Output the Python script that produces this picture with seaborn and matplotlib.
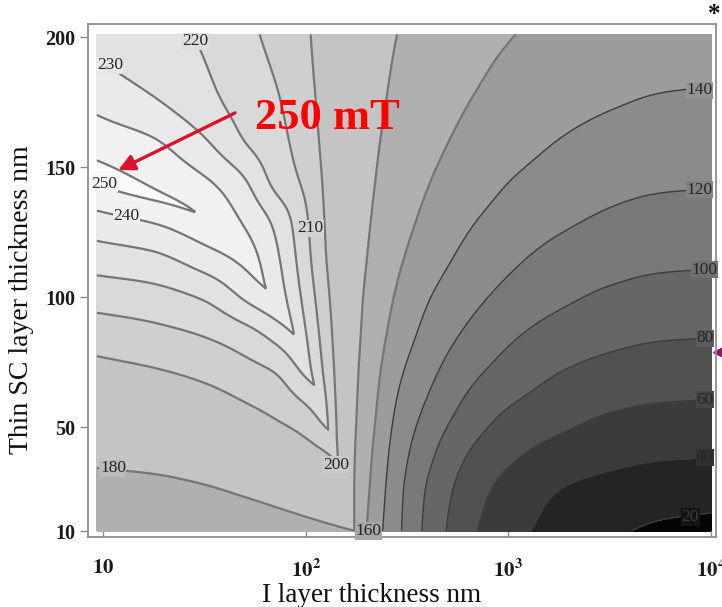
import numpy as np
import matplotlib
matplotlib.use("Agg")
import matplotlib.pyplot as plt
from matplotlib.colors import to_rgb
from matplotlib.ticker import NullLocator
import seaborn as sns

# ---------------- data ----------------
# I-layer thickness sample columns (nm) and thin-SC-layer thickness rows (nm)
i_layer_nm = [9.33, 17.78, 31.62, 50.12, 70.79, 100.0, 125.9, 158.5, 199.5,
              281.8, 398.1, 631.0, 1000.0, 1778.0, 3162.0, 5623.0, 10000.0]
sc_layer_nm = [10, 25, 40, 55, 70, 85, 100, 115, 130, 145, 160, 175, 190, 201]

# field (mT) of the "upper" branch (upper arms of the V contours and the right-hand arcs)
upper_10 = [345, 335, 325, 312, 295, 272, 240, 195, 159.1, 124.8, 94.9, 65.1, 46.6, 33.3, 23.4, 16.5, 13.5]
upper_25 = [335, 325, 315, 302, 285, 262, 228, 190.9, 163.6, 126.5, 97.7, 70.5, 52.7, 39.3, 33.1, 29.0, 27.6]
upper_40 = [325, 315, 305, 292, 275, 250, 214, 189.9, 166.9, 130.8, 105.8, 79.8, 64.8, 52.9, 46.2, 42.7, 41.7]
upper_55 = [315, 305, 295, 282, 265, 240, 210.9, 189.6, 170.9, 136.6, 115.7, 93.1, 77.5, 67.5, 59.5, 56.2, 55.2]
upper_70 = [305, 295, 285, 272, 258, 225.4, 207.6, 189.4, 173.6, 143.7, 125.1, 104.8, 91.5, 79.2, 72.7, 69.1, 68.1]
upper_85 = [295, 285, 275, 262, 245, 220.6, 204.8, 189.5, 176.2, 151.6, 133.8, 116.3, 102.9, 91.7, 85.1, 81.6, 80.6]
upper_100 = [285, 275, 265, 250, 236.5, 216.7, 202.2, 189.7, 178.1, 157.9, 141.4, 126.3, 114.5, 103.9, 96.8, 93.2, 92.1]
upper_115 = [275, 268, 258, 245.5, 232.5, 213.6, 199.8, 190.1, 180.4, 163.4, 149.6, 135.0, 124.1, 113.8, 107.4, 104.0, 103.0]
upper_130 = [265, 258, 249.9, 238.2, 227.8, 211.6, 198.7, 190.3, 182.1, 167.9, 156.0, 142.6, 133.1, 123.9, 117.4, 113.8, 112.75]
upper_145 = [254.7, 248, 241.1, 230.8, 216.6, 208, 197.9, 190.7, 183.5, 171.5, 161.1, 149.8, 140.4, 132.6, 125.9, 122.9, 122.0]
upper_160 = [245.6, 240.9, 231, 219.5, 213.6, 205, 197.3, 191, 184.6, 174.4, 165.5, 155.6, 147.5, 139.6, 133.9, 130.8, 129.8]
upper_175 = [237.4, 231, 222.9, 216.2, 211.4, 203, 197, 191.4, 185.8, 176.8, 169.1, 160.3, 153.3, 146.4, 141.5, 138.6, 137.6]
upper_190 = [230.5, 225, 220.2, 214, 208.9, 201.7, 196.7, 191.6, 186.6, 178.7, 172.0, 164.3, 157.6, 150.7, 146.4, 144.1, 143.4]
upper_201 = [225.4, 222.4, 219, 212.6, 207.1, 201.1, 196.5, 191.8, 187.1, 180.0, 173.8, 166.8, 161.0, 154.5, 150.1, 147.7, 147.0]

# field (mT) of the "lower" branch (lower arms of the V contours, bottom-left region)
lower_10 = [169, 169.2, 170.5, 172.5, 174.5, 176.5, 177.8, 179.3, 181, 190, 200, 210, 220, 230, 240, 250, 260]
lower_25 = [175.8, 176.6, 178.5, 181.1, 183.4, 186.1, 188.4, 191.2, 194.9, 205, 215, 225, 235, 245, 255, 265, 275]
lower_40 = [182.6, 183.9, 186.2, 189.3, 192.3, 196, 199.6, 206.6, 217, 230, 240, 250, 260, 270, 280, 290, 300]
lower_55 = [189.5, 191.2, 193.8, 197.6, 201.1, 206.6, 215.4, 226, 235, 245, 255, 265, 275, 285, 295, 300, 300]
lower_70 = [196.3, 198.5, 201.6, 205.7, 209.3, 221, 227.9, 238, 245, 255, 265, 275, 285, 295, 300, 300, 300]
lower_85 = [204.3, 206.9, 210.2, 215.4, 222.9, 234.3, 245, 255, 262, 270, 280, 290, 300, 300, 300, 300, 300]
lower_100 = [214.1, 216.3, 221.1, 231.5, 239.7, 250, 258, 265, 270, 280, 290, 300, 300, 300, 300, 300, 300]
lower_115 = [224.9, 227.8, 235.6, 243, 252, 260, 266, 272, 278, 285, 295, 300, 300, 300, 300, 300, 300]
lower_130 = [237, 241.6, 248.6, 253, 258, 264, 268, 274, 280, 290, 300, 300, 300, 300, 300, 300, 300]
lower_145 = [252, 259, 264, 270, 275, 280, 285, 290, 295, 300, 300, 300, 300, 300, 300, 300, 300]
lower_160 = [268, 272, 276, 280, 285, 290, 295, 300, 300, 300, 300, 300, 300, 300, 300, 300, 300]
lower_175 = [280, 284, 288, 292, 296, 300, 300, 300, 300, 300, 300, 300, 300, 300, 300, 300, 300]
lower_190 = [295, 298, 300, 300, 300, 300, 300, 300, 300, 300, 300, 300, 300, 300, 300, 300, 300]
lower_201 = [305, 305, 305, 305, 305, 305, 305, 305, 305, 305, 305, 305, 305, 305, 305, 305, 305]

contour_levels = [0, 20, 40, 60, 80, 100, 120, 140, 160, 180, 200, 210, 220, 230, 240, 250, 400]
labelled_levels = [220, 230, 250, 240, 210, 200, 180, 160, 140, 120, 100, 80, 60, 40, 20]
x_tick_values = [10, 100, 1000, 10000]
x_tick_labels = [r"$\mathbf{10}$", r"$\mathbf{10^2}$", r"$\mathbf{10^3}$", r"$\mathbf{10^4}$"]
y_tick_values = [10, 50, 100, 150, 200]
annotation_text = "250 mT"

# ---------------- build field ----------------
upper = np.array([upper_10, upper_25, upper_40, upper_55, upper_70, upper_85, upper_100,
                  upper_115, upper_130, upper_145, upper_160, upper_175, upper_190, upper_201], float)
lower = np.array([lower_10, lower_25, lower_40, lower_55, lower_70, lower_85, lower_100,
                  lower_115, lower_130, lower_145, lower_160, lower_175, lower_190, lower_201], float)
u_cols = np.log10(i_layer_nm)
y_rows = np.array(sc_layer_nm, float)

uf = np.linspace(u_cols[0], u_cols[-1], 620)
yf = np.linspace(y_rows[0], y_rows[-1], 500)


def pchip(xk, yk, xq):
    """Monotone cubic Hermite interpolation (Fritsch-Carlson)."""
    xk = np.asarray(xk, float)
    yk = np.asarray(yk, float)
    h = np.diff(xk)
    d = np.diff(yk) / h
    m = np.zeros_like(yk)
    for k in range(1, len(xk) - 1):
        if d[k - 1] * d[k] > 0:
            w1 = 2 * h[k] + h[k - 1]
            w2 = h[k] + 2 * h[k - 1]
            m[k] = (w1 + w2) / (w1 / d[k - 1] + w2 / d[k])
    m[0], m[-1] = d[0], d[-1]
    i = np.clip(np.searchsorted(xk, xq) - 1, 0, len(xk) - 2)
    t = (xq - xk[i]) / h[i]
    h00 = 2 * t ** 3 - 3 * t ** 2 + 1
    h10 = t ** 3 - 2 * t ** 2 + t
    h01 = -2 * t ** 3 + 3 * t ** 2
    h11 = t ** 3 - t ** 2
    return h00 * yk[i] + h10 * h[i] * m[i] + h01 * yk[i + 1] + h11 * h[i] * m[i + 1]


def regrid(grid):
    tmp = np.array([pchip(u_cols, row, uf) for row in grid])
    return np.array([pchip(y_rows, tmp[:, j], yf) for j in range(tmp.shape[1])]).T


def smooth(a, s):
    r = int(3 * s) + 1
    t = np.arange(-r, r + 1)
    w = np.exp(-0.5 * (t / s) ** 2)
    w /= w.sum()
    a = np.pad(a, ((0, 0), (r, r)), mode="reflect", reflect_type="odd")
    a = np.apply_along_axis(lambda v: np.convolve(v, w, mode="valid"), 1, a)
    a = np.pad(a, ((r, r), (0, 0)), mode="reflect", reflect_type="odd")
    a = np.apply_along_axis(lambda v: np.convolve(v, w, mode="valid"), 0, a)
    return a


field = np.minimum(smooth(regrid(upper), 7), smooth(regrid(lower), 5))
XF, YF = np.meshgrid(10 ** uf, yf)

# ---------------- styling ----------------
sns.set_theme(style="white")
plt.rcParams["font.family"] = ["Liberation Serif", "DejaVu Serif"]
plt.rcParams["mathtext.fontset"] = "stix"

grays = ["#050505", "#242424", "#3b3b3b", "#515151", "#666666", "#797979", "#8b8b8b",
         "#9c9c9c", "#b0b0b0", "#c4c4c4", "#cfcfcf", "#d9d9d9", "#e2e2e2", "#eaeaea",
         "#f1f1f1", "#f9f9f9"]
band_colors = sns.color_palette(grays)

fig = plt.figure(figsize=(7.22, 6.07), dpi=100)
ax = fig.add_axes([88 / 722, 1 - 537 / 607, (716 - 88) / 722, (537 - 24) / 607])

ax.contourf(XF, YF, field, levels=contour_levels, colors=band_colors)
hi = [l for l in contour_levels[1:-1] if l >= 160]
lo = [l for l in contour_levels[1:-1] if l < 160]
ax.contour(XF, YF, field, levels=hi, colors="#767676", linewidths=1.6)
ax.contour(XF, YF, field, levels=lo, colors="#3c3c3c", linewidths=1.0)

# contour value labels (horizontal, Mathematica style), placed where the reference shows them
label_spots = [(28.5, 198.3), (10.8, 189.2), (10.2, 143.6), (13.1, 131.3), (105, 126.5),
               (141, 35.4), (11.2, 34.2), (203, 10.0), (8800, 179.6), (8800, 141.2),
               (9300, 110.4), (9300, 84.2), (9300, 60.4), (9300, 38.1), (7900, 15.4)]
for lvl, (lx, ly) in zip(labelled_levels, label_spots):
    k = contour_levels.index(lvl)
    c1, c2 = np.array(to_rgb(grays[k - 1])), np.array(to_rgb(grays[k]))
    ax.text(lx, ly, str(lvl), ha="center", va="center", fontsize=12.5,
            color="#262626" if lvl >= 40 else "#3a3a3a",
            bbox=dict(facecolor=tuple((c1 + c2) / 2), edgecolor="none", pad=0.4), zorder=4)

ax.set_xscale("log")
ax.set_xlim(10 ** 0.926, 10 ** 4.024)
ax.set_ylim(7.7, 205)
ax.set_xticks(x_tick_values)
ax.set_xticklabels(x_tick_labels)
ax.xaxis.set_minor_locator(NullLocator())
ax.set_yticks(y_tick_values)
ax.set_yticklabels([str(v) for v in y_tick_values])
for lab in ax.get_yticklabels():
    lab.set_fontweight("bold")
ax.tick_params(axis="y", direction="out", length=6, width=1, color="#8a8a8a",
               labelsize=14.5, labelcolor="#1a1a1a", pad=3, left=True)
ax.tick_params(axis="x", direction="in", length=6, width=1, color="#8a8a8a",
               labelsize=15, labelcolor="#1a1a1a", pad=16, bottom=True)
for sp in ax.spines.values():
    sp.set_color("#8f8f8f")
    sp.set_linewidth(1.3)

fig.text(372 / 722, 1 - 596 / 607, "I layer thickness nm", ha="center", va="center",
         fontsize=19.5, color="#111111")
fig.text(22 / 722, 1 - 300 / 607, "Thin SC layer thickness nm", ha="center", va="center",
         rotation=90, fontsize=20, color="#111111")

red = "#e0102c"
ax.annotate("", xy=(11.9, 148.8), xytext=(44.8, 170.8),
            arrowprops=dict(arrowstyle="-|>", color=red, lw=2.4, mutation_scale=24,
                            shrinkA=0, shrinkB=0))
ax.text(127.4, 169.0, annotation_text, ha="center", va="center", fontsize=32,
        fontweight="bold", color="#ff0000", zorder=5)

fig.text(714 / 722, 1 - 14 / 607, "*", ha="center", va="center", fontsize=18,
         fontweight="bold", color="#111111")
ax.plot([718 / 722], [1 - 352 / 607], marker="<", markersize=7, color="#8b1a6b",
        transform=fig.transFigure, clip_on=False)

fig.savefig("out.png", dpi=100)
